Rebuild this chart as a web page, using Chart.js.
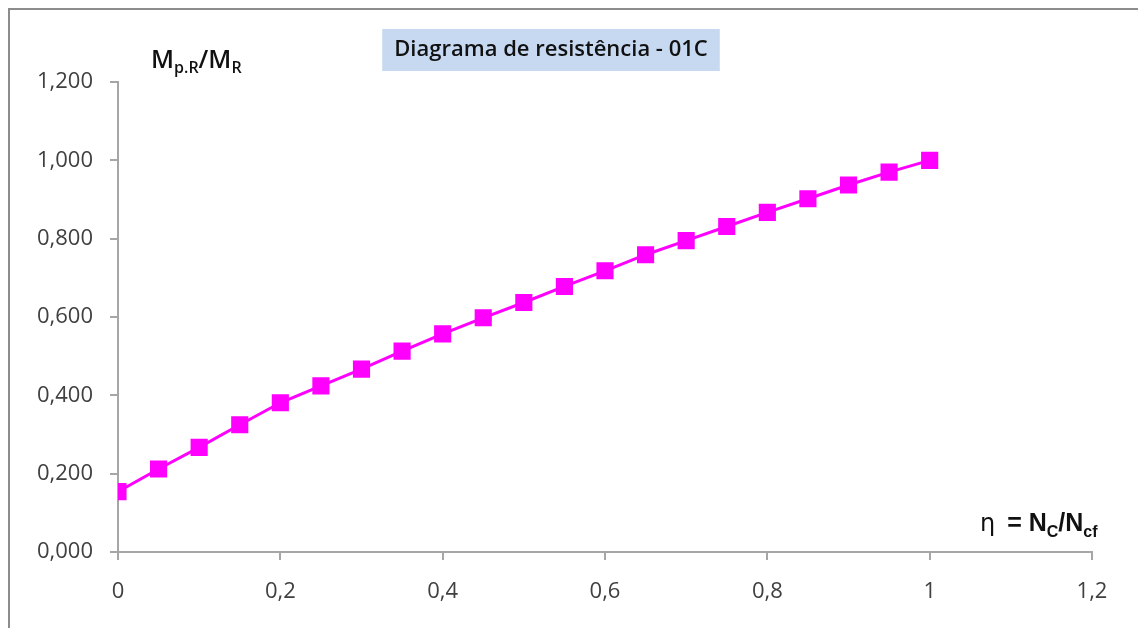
<!DOCTYPE html>
<html>
<head>
<meta charset="utf-8">
<script src="https://cdn.jsdelivr.net/npm/chart.js@4/dist/chart.umd.min.js"></script>
<style>
  html, body { margin: 0; padding: 0; background: #fff; }
  #wrap { position: relative; width: 1138px; height: 628px; }
  #frame { position: absolute; left: 8px; top: 8px; right: 0; bottom: 0;
           border-left: 2px solid #8c8c8c; border-top: 2px solid #8c8c8c; }
  canvas { position: absolute; left: 0; top: 0; }
</style>
</head>
<body>
<div id="wrap">
  <div id="frame"></div>
  <canvas id="diagrama" width="1138" height="628"></canvas>
</div>
<script>
'use strict';

// eta = Nc/Ncf
var etaValues = [0, 0.05, 0.1, 0.15, 0.2, 0.25, 0.3, 0.35, 0.4, 0.45, 0.5,
                 0.55, 0.6, 0.65, 0.7, 0.75, 0.8, 0.85, 0.9, 0.95, 1];
// Mp.R / MR
var momentRatio = [0.154, 0.212, 0.267, 0.325, 0.381, 0.424, 0.467, 0.513, 0.557, 0.598, 0.637,
                   0.678, 0.718, 0.759, 0.795, 0.831, 0.867, 0.902, 0.937, 0.970, 1.000];

var chartTitle = 'Diagrama de resistência - 01C';
var axisColor = '#a6a6a6';
var tickFont = { family: 'Open Sans, Lato, sans-serif', size: 22 };

var points = [];
for (var i = 0; i < etaValues.length; i++) {
  points.push({ x: etaValues[i], y: momentRatio[i] });
}

function comma(v, d) {
  return v.toFixed(d).replace('.', ',');
}

// title box + axis captions
var labelsPlugin = {
  id: 'labels',
  afterDraw: function (chart) {
    var ctx = chart.ctx;
    ctx.save();

    // title with blue box
    ctx.font = '600 22px "Open Sans", sans-serif';
    var tw = ctx.measureText(chartTitle).width;
    var cx = 551, cy = 50;
    ctx.fillStyle = '#c6d9f1';
    ctx.fillRect(cx - tw / 2 - 12, 29, tw + 24, 42);
    ctx.fillStyle = '#111';
    ctx.textAlign = 'center';
    ctx.textBaseline = 'middle';
    ctx.fillText(chartTitle, cx, cy);

    // y caption  Mp.R/MR
    ctx.textAlign = 'left';
    ctx.textBaseline = 'alphabetic';
    var x = 151, base = 68;
    var parts = [['M', 0], ['p.R', 1], ['/M', 0], ['R', 1]];
    parts.forEach(function (p) {
      ctx.font = p[1] ? '600 16px "Open Sans", sans-serif' : '600 25px "Open Sans", sans-serif';
      ctx.fillText(p[0], x, base + (p[1] ? 5 : 0));
      x += ctx.measureText(p[0]).width;
    });

    // x caption  η = NC/Ncf
    x = 980; base = 531;
    ctx.font = '24px "DejaVu Sans", sans-serif';
    ctx.fillText('η', x, base);
    x += ctx.measureText('η').width + 12;
    var xparts = [['= N', 0], ['C', 1], ['/N', 0], ['cf', 1]];
    xparts.forEach(function (p) {
      ctx.font = p[1] ? 'bold 16px "Liberation Sans", Arial, sans-serif' : 'bold 25px "Liberation Sans", Arial, sans-serif';
      ctx.fillText(p[0], x, base + (p[1] ? 6 : 0));
      x += ctx.measureText(p[0]).width;
    });

    ctx.restore();
  }
};

var ctx = document.getElementById('diagrama').getContext('2d');
var diagrama = new Chart(ctx, {
  type: 'scatter',
  data: {
    datasets: [{
      label: 'Mp.R/MR',
      data: points,
      showLine: true,
      borderColor: '#ff00ff',
      backgroundColor: '#ff00ff',
      borderWidth: 3,
      pointStyle: 'rect',
      pointRadius: 10,
      pointHoverRadius: 10,
      tension: 0
    }]
  },
  options: {
    responsive: false,
    animation: false,
    layout: { padding: { top: 82, right: 46, left: 0, bottom: 0 } },
    plugins: {
      legend: { display: false },
      tooltip: { enabled: false }
    },
    scales: {
      x: {
        type: 'linear',
        min: 0,
        max: 1.2,
        ticks: {
          stepSize: 0.2,
          color: '#404040',
          font: tickFont,
          padding: 19,
          maxRotation: 0,
          callback: function (v) {
            var r = Math.round(v * 10) / 10;
            return String(r).replace('.', ',');
          }
        },
        grid: { drawOnChartArea: false, tickLength: 8, color: axisColor, lineWidth: 2 },
        border: { color: axisColor, width: 2 },
        afterFit: function (scale) { scale.height = 628 - 552; }
      },
      y: {
        min: 0,
        max: 1.2,
        ticks: {
          stepSize: 0.2,
          color: '#404040',
          font: tickFont,
          padding: 17,
          callback: function (v) { return comma(v, 3); }
        },
        grid: { drawOnChartArea: false, tickLength: 8, color: axisColor, lineWidth: 2 },
        border: { color: axisColor, width: 2 },
        afterFit: function (scale) { scale.width = 118; }
      }
    }
  },
  plugins: [labelsPlugin]
});
</script>
</body>
</html>
